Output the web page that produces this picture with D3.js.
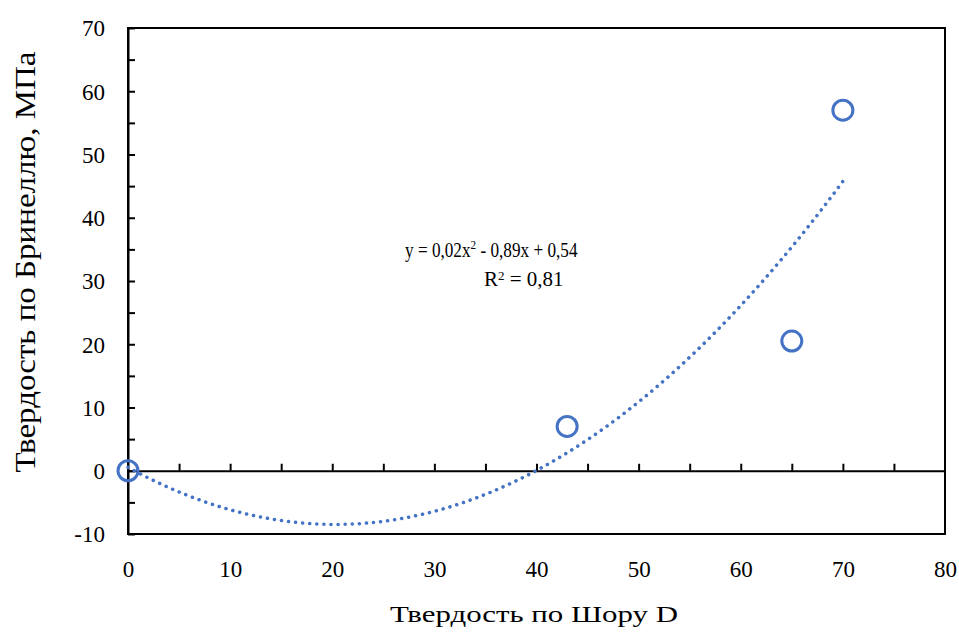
<!DOCTYPE html>
<html>
  <head>
    <meta charset="utf-8">
    <title>Твердость по Шору D / по Бринеллю</title>
    <script src="https://d3js.org/d3.v7.min.js"></script>
    <style>
      body { margin: 0; background: #fff; }
    </style>
  </head>
  <body>
    <svg id="chart" width="959" height="644"></svg>

    <script>
      // measured points
      var shoreD = [0, 43, 65, 70];
      var brinell = [0, 7, 20.5, 57];

      var xTicks = [0, 10, 20, 30, 40, 50, 60, 70, 80];
      var yTicks = [-10, 0, 10, 20, 30, 40, 50, 60, 70];
      var minorStep = 5;

      var eqLine = "y = 0,02x";
      var eqRest = " - 0,89x + 0,54";
      var r2Text = "0,81";

      var serif = "'Liberation Serif', 'DejaVu Serif', serif";

      var svg = d3.select("#chart");
      var plotL = 128, plotR = 945, plotT = 28, plotB = 534;

      var x = d3.scaleLinear().domain([0, 80]).range([plotL, plotR]);
      var y = d3.scaleLinear().domain([-10, 70]).range([plotB, plotT]);

      var blue = "#4472C4";

      // quadratic least squares, like the Excel trendline
      function polyFit(xs, ys) {
        var s = [0, 0, 0, 0, 0], t = [0, 0, 0];
        xs.forEach((xv, i) => {
          for (var k = 0; k < 5; k++) s[k] += Math.pow(xv, k);
          for (var k = 0; k < 3; k++) t[k] += ys[i] * Math.pow(xv, k);
        });
        var m = [[s[0], s[1], s[2], t[0]], [s[1], s[2], s[3], t[1]], [s[2], s[3], s[4], t[2]]];
        for (var i = 0; i < 3; i++) {
          for (var j = i + 1; j < 3; j++) {
            var f = m[j][i] / m[i][i];
            for (var k = i; k < 4; k++) m[j][k] -= f * m[i][k];
          }
        }
        var c = [0, 0, 0];
        for (var i = 2; i >= 0; i--) {
          var v = m[i][3];
          for (var k = i + 1; k < 3; k++) v -= m[i][k] * c[k];
          c[i] = v / m[i][i];
        }
        return c; // c0 + c1 x + c2 x^2
      }
      var coef = polyFit(shoreD, brinell);
      var fitPts = d3.range(0, 70.01, 0.5).map(v => [v, coef[0] + coef[1] * v + coef[2] * v * v]);

      // frame
      svg.append("rect")
        .attr("x", plotL).attr("y", plotT)
        .attr("width", plotR - plotL).attr("height", plotB - plotT)
        .attr("fill", "none").attr("stroke", "#000").attr("stroke-width", 2);

      var minorY = d3.range(-10, 70.01, minorStep);
      var minorX = d3.range(0, 80.01, minorStep);

      // y axis, ticks pointing inward
      var yAxis = svg.append("g")
        .attr("transform", "translate(" + plotL + ",0)")
        .call(d3.axisLeft(y).tickValues(minorY).tickSizeInner(-7).tickSizeOuter(0).tickPadding(23)
          .tickFormat(d => yTicks.includes(d) ? d : ""))
        .attr("font-family", serif).attr("font-size", 23);
      yAxis.select(".domain").attr("stroke-width", 2);
      yAxis.selectAll(".tick line").attr("stroke-width", 2);
      yAxis.selectAll("text").attr("dy", "0.34em");

      // zero line with ticks going up
      var zeroAxis = svg.append("g")
        .attr("transform", "translate(0," + y(0) + ")")
        .call(d3.axisTop(x).tickValues(minorX.filter(d => d > 0 && d < 80)).tickSizeInner(7).tickSizeOuter(0).tickFormat(""));
      zeroAxis.select(".domain").attr("stroke-width", 2);
      zeroAxis.selectAll(".tick line").attr("stroke-width", 2);

      // x labels under the frame
      var xAxis = svg.append("g")
        .attr("transform", "translate(0," + plotB + ")")
        .call(d3.axisBottom(x).tickValues(xTicks).tickSize(0).tickPadding(27))
        .attr("font-family", serif).attr("font-size", 23);
      xAxis.select(".domain").remove();

      // trendline
      svg.append("path")
        .datum(fitPts)
        .attr("d", d3.line().x(d => x(d[0])).y(d => y(d[1])))
        .attr("fill", "none")
        .attr("stroke", blue)
        .attr("stroke-width", 3.5)
        .attr("stroke-linecap", "round")
        .attr("stroke-dasharray", "0.1 7");

      // points
      svg.append("g").selectAll("circle")
        .data(shoreD)
        .join("circle")
        .attr("cx", d => x(d))
        .attr("cy", (d, i) => y(brinell[i]))
        .attr("r", 10)
        .attr("fill", "none")
        .attr("stroke", blue)
        .attr("stroke-width", 3);

      // equation
      var eq = svg.append("text")
        .attr("transform", "translate(405,257) scale(0.86,1)")
        .attr("font-family", serif)
        .attr("font-size", 20);
      eq.append("tspan").text(eqLine);
      eq.append("tspan").attr("dy", -8).attr("font-size", 13).text("2");
      eq.append("tspan").attr("dy", 8).text(eqRest);

      var r2 = svg.append("text")
        .attr("transform", "translate(484,286)")
        .attr("font-family", serif)
        .attr("font-size", 21);
      r2.append("tspan").text("R");
      r2.append("tspan").attr("dy", -6).attr("font-size", 13).text("2");
      r2.append("tspan").attr("dy", 6).text(" = " + r2Text);

      // axis titles
      svg.append("text")
        .attr("x", 534).attr("y", 622)
        .attr("text-anchor", "middle")
        .attr("font-family", serif)
        .attr("font-size", 23)
        .attr("textLength", 288)
        .attr("lengthAdjust", "spacingAndGlyphs")
        .text("Твердость по Шору D");

      svg.append("text")
        .attr("transform", "translate(35,262) rotate(-90)")
        .attr("text-anchor", "middle")
        .attr("font-family", serif)
        .attr("font-size", 29)
        .attr("textLength", 421)
        .attr("lengthAdjust", "spacingAndGlyphs")
        .text("Твердость по Бринеллю, МПа");
    </script>
  </body>
</html>
